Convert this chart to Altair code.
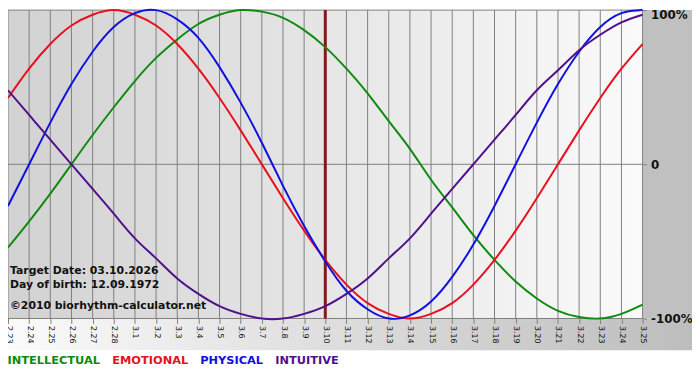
import altair as alt
import pandas as pd

dates = ["2.23", "2.24", "2.25", "2.26", "2.27", "2.28",
         "3.1", "3.2", "3.3", "3.4", "3.5", "3.6", "3.7", "3.8", "3.9", "3.10",
         "3.11", "3.12", "3.13", "3.14", "3.15", "3.16", "3.17", "3.18", "3.19",
         "3.20", "3.21", "3.22", "3.23", "3.24", "3.25"]

intellectual = [-0.54, -0.37, -0.19, 0.00, 0.19, 0.37, 0.54, 0.69, 0.81, 0.91, 0.97,
                1.00, 0.99, 0.95, 0.87, 0.76, 0.62, 0.46, 0.28, 0.10, -0.10, -0.28,
                -0.46, -0.62, -0.76, -0.87, -0.95, -0.99, -1.00, -0.97, -0.91]
emotional = [0.43, 0.62, 0.78, 0.90, 0.97, 1.00, 0.97, 0.90, 0.78, 0.62, 0.43, 0.22,
             0.00, -0.22, -0.43, -0.62, -0.78, -0.90, -0.97, -1.00, -0.97, -0.90,
             -0.78, -0.62, -0.43, -0.22, 0.00, 0.22, 0.43, 0.62, 0.78]
physical = [-0.27, 0.00, 0.27, 0.52, 0.73, 0.89, 0.98, 1.00, 0.94, 0.82, 0.63, 0.40,
            0.14, -0.14, -0.40, -0.63, -0.82, -0.94, -1.00, -0.98, -0.89, -0.73,
            -0.52, -0.27, 0.00, 0.27, 0.52, 0.73, 0.89, 0.98, 1.00]
intuitive = [0.48, 0.32, 0.16, 0.00, -0.16, -0.32, -0.48, -0.61, -0.74, -0.84, -0.92,
             -0.97, -1.00, -1.00, -0.97, -0.92, -0.84, -0.74, -0.61, -0.48, -0.32,
             -0.16, 0.00, 0.16, 0.32, 0.48, 0.61, 0.74, 0.84, 0.92, 0.97]

series_names = ["INTELLECTUAL", "EMOTIONAL", "PHYSICAL", "INTUITIVE"]
series_colors = ["#0f8a0f", "#e8101c", "#1010e0", "#50108c"]
target_date = "3.10"
y_levels = [-1, 0, 1]
notes = ["Target Date: 03.10.2026", "Day of birth: 12.09.1972",
         "\u00a92010 biorhythm-calculator.net"]

W, H = 642, 312
FONT = "DejaVu Sans"

rows = []
for name, vals in zip(series_names, [intellectual, emotional, physical, intuitive]):
    for i, (d, v) in enumerate(zip(dates, vals)):
        rows.append({"date": d, "idx": i, "value": v, "series": name})
df = pd.DataFrame(rows)

one = pd.DataFrame({"a": [0]})
xscale = alt.Scale(type="point", padding=0)

def xenc(field="date"):
    return alt.X(f"{field}:O", sort=dates, scale=xscale,
                 axis=alt.Axis(labelAngle=90, labelFontSize=8, labelColor="#111",
                               labelFont=FONT, tickColor="#808080", tickSize=5,
                               labelPadding=2, domain=False, grid=False, title=None,
                               zindex=1))

yscale = alt.Scale(domain=[-1, 1], nice=False, zero=False)

plot_bg = alt.Chart(one).mark_rect(
    color=alt.LinearGradient(gradient="linear",
                             stops=[alt.GradientStop(color="#d2d2d2", offset=0),
                                    alt.GradientStop(color="#fafafa", offset=1)],
                             x1=0, x2=1, y1=0, y2=0)
).encode(x=alt.value(0), x2=alt.value(W), y=alt.value(0), y2=alt.value(H))

band_bg = alt.Chart(one).mark_rect(
    color=alt.LinearGradient(gradient="linear",
                             stops=[alt.GradientStop(color="#fbfbfb", offset=0),
                                    alt.GradientStop(color="#bdbdbd", offset=1)],
                             x1=0, x2=1, y1=0, y2=0)
).encode(x=alt.value(0), x2=alt.value(W + 50), y=alt.value(H), y2=alt.value(H + 32))

right_bg = alt.Chart(one).mark_rect(color="#c0c0c0").encode(
    x=alt.value(W), x2=alt.value(W + 50), y=alt.value(0), y2=alt.value(H))

vgrid = alt.Chart(pd.DataFrame({"date": dates})).mark_rule(
    color="#808080", strokeWidth=1).encode(x=xenc())

hgrid = alt.Chart(pd.DataFrame({"v": y_levels})).mark_rule(
    color="#808080", strokeWidth=1).encode(
    y=alt.Y("v:Q", scale=yscale,
            axis=alt.Axis(orient="right", values=y_levels,
                          labelExpr="datum.value == 1 ? '100%' : (datum.value == -1 ? '-100%' : '0')",
                          labelFontWeight="bold", labelFontSize=12, labelFont=FONT,
                          labelColor="#111", labelBaseline={"expr": "datum.value == 1 ? 'top' : 'middle'"},
                          tickSize=4, tickColor="#808080", labelPadding=4,
                          domain=False, grid=False, title=None, zindex=1)))

target = alt.Chart(pd.DataFrame({"date": [target_date]})).mark_rule(
    color="#7d1a1a", strokeWidth=3).encode(x=xenc())

lines = alt.Chart(df).mark_line(strokeWidth=2, interpolate="natural").encode(
    x=xenc(),
    y=alt.Y("value:Q", scale=yscale),
    color=alt.Color("series:N", sort=series_names,
                    scale=alt.Scale(domain=series_names, range=series_colors),
                    legend=alt.Legend(orient="none", legendX=-12, legendY=349,
                                      direction="horizontal", title=None,
                                      symbolSize=0, symbolOpacity=0,
                                      symbolStrokeWidth=0, labelOffset=0,
                                      columnPadding=0, labelFont=FONT,
                                      labelFontSize=11.5, labelFontWeight="bold",
                                      labelColor={"expr": "scale('color', datum.value)"})),
    order=alt.Order("idx:Q"),
)

note_layers = []
for txt, yy in zip(notes, [264, 278, 299]):
    note_layers.append(
        alt.Chart(one).mark_text(text=txt, align="left", baseline="middle",
                                 font=FONT, fontSize=11, fontWeight="bold",
                                 color="#111").encode(x=alt.value(2), y=alt.value(yy)))

chart = alt.layer(plot_bg, band_bg, right_bg, vgrid, hgrid, target, lines,
                  *note_layers).properties(
    width=W, height=H,
    autosize=alt.AutoSizeParams(type="none"),
    padding={"left": 0, "top": 0, "right": 50, "bottom": 52},
    background="white",
).configure_view(strokeWidth=0)

chart.save("out.html", embed_options={"renderer": "svg", "actions": False})
